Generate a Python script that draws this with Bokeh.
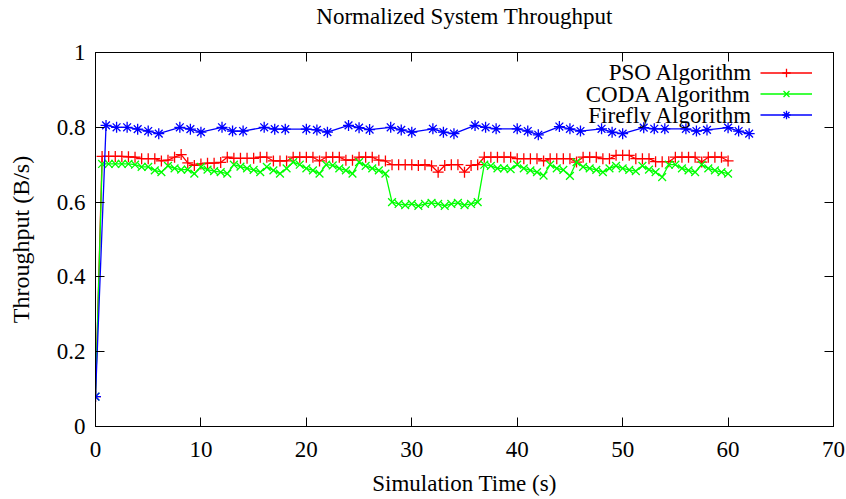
from bokeh.plotting import figure
from bokeh.models import (Range1d, LinearAxis, FixedTicker, Legend, LegendItem, Label,
                          CustomLabelingPolicy)
from bokeh.embed import file_html
from bokeh.resources import INLINE

TITLE = "Normalized System Throughput"
X_LABEL = "Simulation Time (s)"
Y_LABEL = "Throughput (B/s)"
SERIES_NAMES = ["PSO Algorithm", "CODA Algorithm", "Firefly Algorithm"]

X_TICKS = [0, 10, 20, 30, 40, 50, 60, 70]
X_TICK_LABELS = ["0", "10", "20", "30", "40", "50", "60", "70"]
Y_TICKS = [0, 0.2, 0.4, 0.6, 0.8, 1.0]
Y_TICK_LABELS = ["0", "0.2", "0.4", "0.6", "0.8", "1"]

# sample times for PSO and CODA (s)
TIME_PC = [
    0, 0.625, 1.25, 1.875, 2.5, 3.125, 3.75, 4.375,
    5, 5.625, 6.25, 6.875, 7.5, 8.125, 8.75, 9.375,
    10, 10.625, 11.25, 11.875, 12.5, 13.125, 13.75, 14.375,
    15, 15.625, 16.25, 16.875, 17.5, 18.125, 18.75, 19.375,
    20, 20.625, 21.25, 21.875, 22.5, 23.125, 23.75, 24.375,
    25, 25.625, 26.25, 26.875, 27.5, 28.125, 28.75, 29.375,
    30, 30.625, 31.25, 31.875, 32.5, 33.125, 33.75, 34.375,
    35, 35.625, 36.25, 36.875, 37.5, 38.125, 38.75, 39.375,
    40, 40.625, 41.25, 41.875, 42.5, 43.125, 43.75, 44.375,
    45, 45.625, 46.25, 46.875, 47.5, 48.125, 48.75, 49.375,
    50, 50.625, 51.25, 51.875, 52.5, 53.125, 53.75, 54.375,
    55, 55.625, 56.25, 56.875, 57.5, 58.125, 58.75, 59.375,
    60,
]

PSO = [
    0.08, 0.722, 0.722, 0.722, 0.722, 0.721, 0.72, 0.716,
    0.716, 0.716, 0.71, 0.712, 0.72, 0.727, 0.705, 0.698,
    0.702, 0.704, 0.704, 0.706, 0.72, 0.717, 0.717, 0.717,
    0.717, 0.72, 0.72, 0.71, 0.71, 0.71, 0.72, 0.72,
    0.72, 0.72, 0.71, 0.72, 0.72, 0.72, 0.712, 0.712,
    0.72, 0.72, 0.72, 0.712, 0.71, 0.70, 0.70, 0.70,
    0.70, 0.698, 0.70, 0.697, 0.68, 0.698, 0.70, 0.70,
    0.68, 0.698, 0.70, 0.72, 0.72, 0.72, 0.72, 0.72,
    0.716, 0.716, 0.716, 0.716, 0.71, 0.716, 0.716, 0.716,
    0.716, 0.707, 0.72, 0.72, 0.72, 0.716, 0.716, 0.725,
    0.725, 0.725, 0.716, 0.716, 0.716, 0.708, 0.708, 0.708,
    0.72, 0.72, 0.72, 0.72, 0.707, 0.72, 0.72, 0.72,
    0.71,
]

CODA = [
    0.08, 0.702, 0.702, 0.702, 0.702, 0.702, 0.70, 0.694,
    0.694, 0.685, 0.68, 0.697, 0.69, 0.687, 0.687, 0.676,
    0.694, 0.687, 0.683, 0.68, 0.676, 0.70, 0.695, 0.69,
    0.686, 0.68, 0.694, 0.685, 0.676, 0.69, 0.707, 0.70,
    0.69, 0.685, 0.676, 0.70, 0.698, 0.69, 0.685, 0.676,
    0.707, 0.697, 0.69, 0.685, 0.676, 0.60, 0.595, 0.592,
    0.595, 0.59, 0.595, 0.598, 0.595, 0.59, 0.595, 0.598,
    0.592, 0.595, 0.60, 0.70, 0.697, 0.69, 0.69, 0.688,
    0.70, 0.69, 0.685, 0.68, 0.671, 0.70, 0.69, 0.686,
    0.67, 0.707, 0.694, 0.69, 0.686, 0.68, 0.69, 0.697,
    0.69, 0.686, 0.683, 0.697, 0.687, 0.68, 0.667, 0.70,
    0.70, 0.69, 0.685, 0.68, 0.70, 0.69, 0.685, 0.68,
    0.676,
]

TIME_FF = [0, 1, 2, 3, 4, 5, 6, 8, 9, 10, 12, 13, 14, 16, 17, 18, 20, 21, 22,
           24, 25, 26, 28, 29, 30, 32, 33, 34, 36, 37, 38, 40, 41, 42, 44, 45,
           46, 48, 49, 50, 52, 53, 54, 56, 57, 58, 60, 61, 62]
FIREFLY = [0.08, 0.805, 0.80, 0.80, 0.795, 0.79, 0.783, 0.80, 0.795, 0.787,
           0.80, 0.79, 0.79, 0.80, 0.795, 0.795, 0.795, 0.793, 0.787, 0.805,
           0.799, 0.794, 0.80, 0.793, 0.787, 0.796, 0.787, 0.783, 0.805, 0.80,
           0.796, 0.796, 0.79, 0.78, 0.802, 0.796, 0.79, 0.796, 0.787, 0.783,
           0.799, 0.796, 0.796, 0.796, 0.79, 0.793, 0.799, 0.79, 0.783]

COLORS = ["#ff0000", "#00ff00", "#0000ff"]
MARKERS = ["cross", "x", "asterisk"]
FONT = "Liberation Serif"

p = figure(width=846, height=499, x_range=Range1d(0, 70), y_range=Range1d(0, 1),
           output_backend="svg", toolbar_location=None,
           min_border_left=95, min_border_right=13, min_border_top=52, min_border_bottom=73)
p.grid.visible = False
p.outline_line_color = "black"
p.outline_line_width = 1
p.background_fill_color = "white"
p.border_fill_color = "white"
p.title.visible = False
p.title.standoff = 0

xa = p.xaxis[0]
xa.ticker = FixedTicker(ticks=X_TICKS)
xa.major_label_overrides = dict(zip(X_TICKS, X_TICK_LABELS))
ya = p.yaxis[0]
ya.ticker = FixedTicker(ticks=Y_TICKS)
ya.major_label_overrides = dict(zip(Y_TICKS, Y_TICK_LABELS))
xa.axis_label = X_LABEL
ya.axis_label = Y_LABEL
for ax in (xa, ya):
    ax.major_tick_in = 9
    ax.major_tick_out = 0
    ax.minor_tick_in = 0
    ax.minor_tick_out = 0
    ax.axis_line_color = "black"
    ax.major_tick_line_color = "black"
    ax.major_label_text_font = FONT
    ax.major_label_text_font_size = "23px"
    ax.major_label_text_color = "black"
    ax.axis_label_text_font = FONT
    ax.axis_label_text_font_style = "normal"
    ax.axis_label_text_color = "black"
xa.axis_label_text_font_size = "23px"
ya.axis_label_text_font_size = "24px"
xa.major_label_standoff = 15
ya.major_label_standoff = 10
xa.axis_label_standoff = 11
ya.axis_label_standoff = 20

no_labels = CustomLabelingPolicy(code="""
try { for (const i of [...indices]) { indices.unset(i) } } catch (e) {}
return indices
""")
# mirrored top axis also carries the chart title as its axis label
top = LinearAxis(ticker=FixedTicker(ticks=X_TICKS), major_label_policy=no_labels,
                 major_label_text_font_size="1px",
                 major_tick_in=9, major_tick_out=0, minor_tick_in=0, minor_tick_out=0,
                 major_label_standoff=0, axis_line_color="black",
                 axis_label=TITLE, axis_label_text_font=FONT,
                 axis_label_text_font_size="23px", axis_label_text_font_style="normal",
                 axis_label_text_color="black", axis_label_standoff=20)
right = LinearAxis(ticker=FixedTicker(ticks=Y_TICKS), major_label_policy=no_labels,
                   major_label_text_font_size="1px",
                   major_tick_in=9, major_tick_out=0, minor_tick_in=0, minor_tick_out=0,
                   major_label_standoff=0, axis_line_color="black")
p.add_layout(top, "above")
p.add_layout(right, "right")

series = [(TIME_PC, PSO), (TIME_PC, CODA), (TIME_FF, FIREFLY)]
items = []
for (xs, ys), col, mk in zip(series, COLORS, MARKERS):
    lr = p.line(xs, ys, line_color=col, line_width=1.3)
    sr = p.scatter(xs, ys, marker=mk, size=11, line_color=col, fill_color=col, line_width=1.3)
    items.append(LegendItem(label=" ", renderers=[lr, sr]))

legend = Legend(items=items, location=(665, 301), orientation="vertical",
                padding=0, margin=0, spacing=0, glyph_width=52, glyph_height=21,
                label_standoff=0, label_width=0, label_height=21,
                label_text_font_size="1px", border_line_color=None,
                background_fill_alpha=0)
p.add_layout(legend)

for i, name in enumerate(SERIES_NAMES):
    p.add_layout(Label(x=657, y=354 - 21.5 * i, x_units="screen", y_units="screen",
                       text=name, text_align="right", text_baseline="middle",
                       text_font=FONT, text_font_size="23px", text_color="black"))

open("out.html", "w").write(file_html(p, INLINE))
